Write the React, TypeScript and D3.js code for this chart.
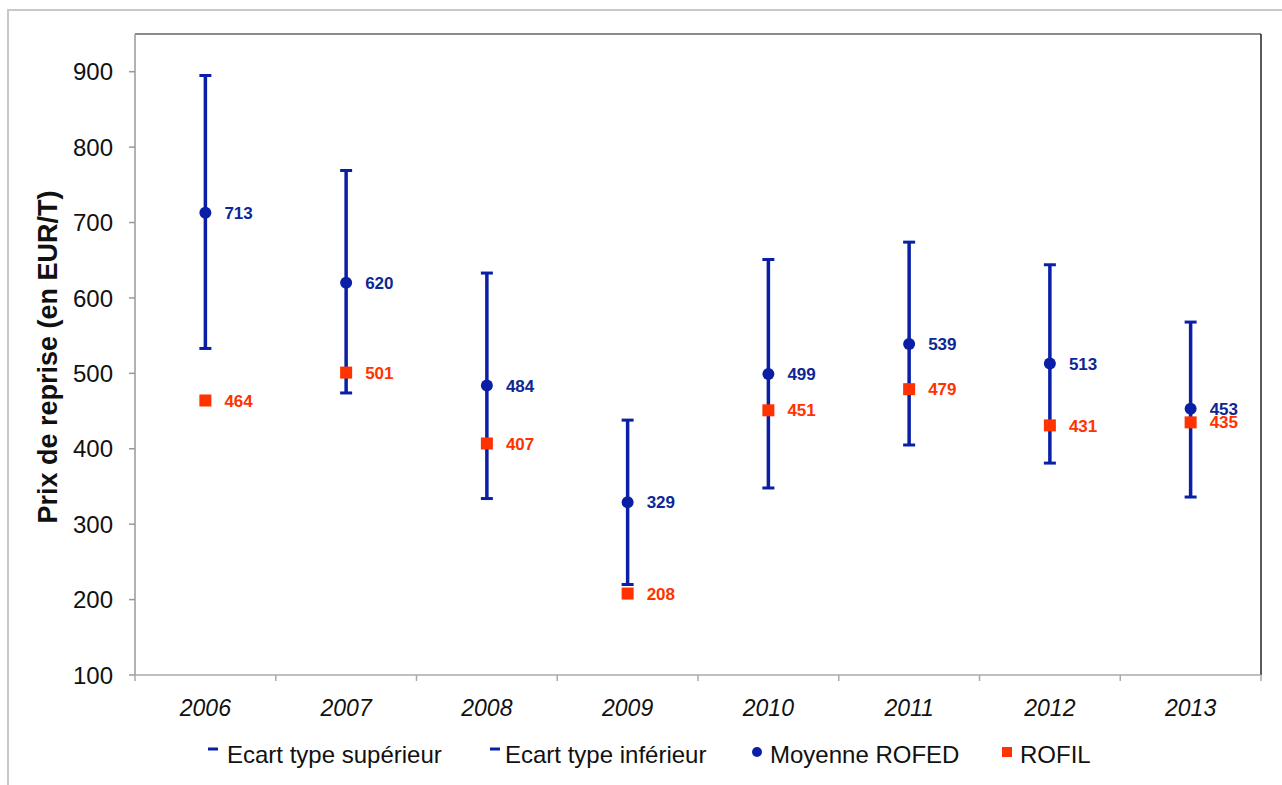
import React from "react";
import * as d3 from "d3";

const years = ["2006", "2007", "2008", "2009", "2010", "2011", "2012", "2013"];
const upper = [895, 769, 633, 438, 651, 674, 644, 568];
const lower = [533, 474, 334, 220, 348, 405, 381, 336];
const meanRofed = [713, 620, 484, 329, 499, 539, 513, 453];
const rofil = [464, 501, 407, 208, 451, 479, 431, 435];
const yTicks = [100, 200, 300, 400, 500, 600, 700, 800, 900];
const legendItems = ["Ecart type supérieur", "Ecart type inférieur", "Moyenne ROFED", "ROFIL"];

const BLUE = "#0B1FA6";
const BLUE_TXT = "#0D2796";
const RED = "#FF3300";
const FONT = "'Liberation Sans', Arial, sans-serif";

export default function App() {
  const left = 135, right = 1261, top = 34, bottom = 675;
  const x = d3.scaleBand<string>().domain(years).range([left, right]).padding(0);
  const y = d3.scaleLinear().domain([100, 950]).range([bottom, top]);
  const cx = (yr: string) => (x(yr) as number) + x.bandwidth() / 2;
  const boundaries = years.map((yr) => x(yr) as number).concat([right]);

  const legendX = [208, 490, 757, 1007];

  return (
    <svg
      width={1282}
      height={785}
      style={{ position: "absolute", left: 0, top: 0, background: "#fff" }}
      fontFamily={FONT}
    >
      {/* outer frame */}
      <rect x={8} y={10} width={1300} height={800} fill="#fff" stroke="#c8c8c8" strokeWidth={2} />
      {/* plot frame */}
      <line x1={left} y1={top} x2={right} y2={top} stroke="#666" strokeWidth={1.5} />
      <line x1={right} y1={top} x2={right} y2={bottom} stroke="#222" strokeWidth={1.5} />
      <line x1={left} y1={top} x2={left} y2={bottom} stroke="#999" strokeWidth={1.5} />
      <line x1={left} y1={bottom} x2={right} y2={bottom} stroke="#aaa" strokeWidth={1.5} />
      {/* y ticks */}
      {yTicks.map((t) => (
        <g key={t}>
          <line x1={left - 6} x2={left} y1={y(t)} y2={y(t)} stroke="#999" strokeWidth={1.5} />
          <text x={113} y={y(t)} dy="0.36em" textAnchor="end" fontSize={24} fill="#111">
            {t}
          </text>
        </g>
      ))}
      {/* x ticks */}
      {boundaries.map((b, i) => (
        <line key={i} x1={b} x2={b} y1={bottom} y2={bottom + 6} stroke="#aaa" strokeWidth={1.5} />
      ))}
      {years.map((yr) => (
        <text key={yr} x={cx(yr)} y={716} textAnchor="middle" fontSize={23} fontStyle="italic" fill="#111">
          {yr}
        </text>
      ))}
      {/* y title */}
      <text
        transform={`translate(57,357) rotate(-90)`}
        textAnchor="middle"
        fontSize={27}
        fontWeight="bold"
        fill="#111"
      >
        Prix de reprise (en EUR/T)
      </text>
      {/* error bars */}
      {years.map((yr, i) => {
        const px = cx(yr);
        return (
          <g key={yr}>
            <line x1={px} x2={px} y1={y(upper[i])} y2={y(lower[i])} stroke={BLUE} strokeWidth={3.5} />
            <line x1={px - 6} x2={px + 6} y1={y(upper[i])} y2={y(upper[i])} stroke={BLUE} strokeWidth={3} />
            <line x1={px - 6} x2={px + 6} y1={y(lower[i])} y2={y(lower[i])} stroke={BLUE} strokeWidth={3} />
          </g>
        );
      })}
      {/* ROFIL squares */}
      {years.map((yr, i) => (
        <g key={"r" + yr}>
          <rect x={cx(yr) - 6} y={y(rofil[i]) - 6} width={12} height={12} fill={RED} />
          <text x={cx(yr) + 19} y={y(rofil[i])} dy="0.36em" fontSize={17} fontWeight="bold" fill={RED}>
            {rofil[i]}
          </text>
        </g>
      ))}
      {/* Mean circles */}
      {years.map((yr, i) => (
        <g key={"m" + yr}>
          <circle cx={cx(yr)} cy={y(meanRofed[i])} r={6} fill={BLUE} />
          <text x={cx(yr) + 19} y={y(meanRofed[i])} dy="0.36em" fontSize={17} fontWeight="bold" fill={BLUE_TXT}>
            {meanRofed[i]}
          </text>
        </g>
      ))}
      {/* legend */}
      <g>
        <rect x={legendX[0]} y={747.5} width={10} height={3} fill={BLUE} />
        <text x={legendX[0] + 19} y={763} fontSize={24} fill="#111">{legendItems[0]}</text>
        <rect x={legendX[1]} y={747.5} width={10} height={3} fill={BLUE} />
        <text x={legendX[1] + 15} y={763} fontSize={24} fill="#111">{legendItems[1]}</text>
        <circle cx={legendX[2]} cy={752} r={5} fill={BLUE} />
        <text x={legendX[2] + 13} y={763} fontSize={24} fill="#111">{legendItems[2]}</text>
        <rect x={legendX[3] - 5} y={747} width={10} height={10} fill={RED} />
        <text x={legendX[3] + 13} y={763} fontSize={24} fill="#111">{legendItems[3]}</text>
      </g>
    </svg>
  );
}
